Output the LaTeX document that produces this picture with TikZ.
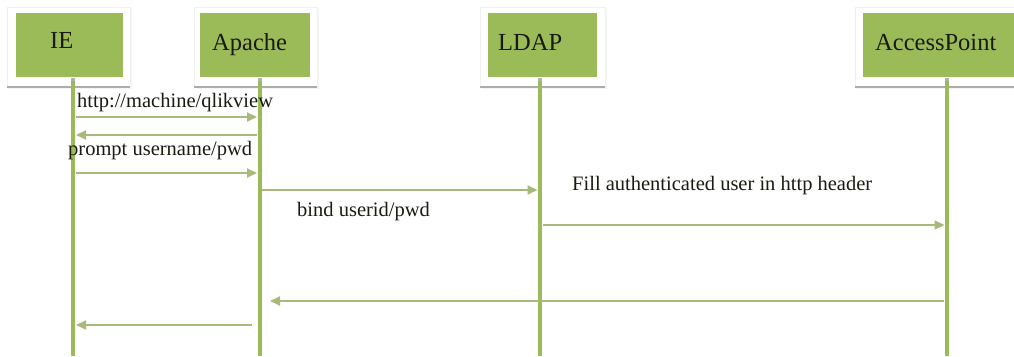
\documentclass[tikz,border=0pt]{standalone}
\usepackage{fontspec}
\setmainfont{Liberation Serif}
\usetikzlibrary{arrows.meta}
\definecolor{olive}{HTML}{9BBB59}
\definecolor{msgc}{HTML}{A7B97B}
\definecolor{txtc}{HTML}{1A1A10}
\tikzset{
  frame/.style={draw=gray!12, fill=white, line width=0.8pt},
  shadowline/.style={draw=gray!65, line width=2.2pt},
  box/.style={fill=olive, draw=none, inner sep=0pt},
  boxlabel/.style={anchor=base west, inner sep=0pt, text=txtc, font=\fontsize{24.5}{28}\selectfont},
  msglabel/.style={anchor=base west, inner sep=0pt, text=txtc, font=\fontsize{20.5}{24}\selectfont},
  lifeline/.style={draw=olive, line width=4pt},
  msg/.style={draw=msgc, line width=2pt, -{Triangle[length=10pt,width=9pt]}},
}
\begin{document}
\begin{tikzpicture}[x=1pt,y=-1pt]
\useasboundingbox (0,0) rectangle (1014,356);
% frames with shadow
\foreach \l/\r in {7/130, 194/317, 480/605, 855/1020}{
  \fill[gray!8] ({\l+2},9) rectangle ({\r+2},89);
  \draw[frame] (\l,7) rectangle (\r,87);
  \draw[shadowline] (\l,87) -- (\r,87);
}
% boxes
\node[box, minimum width=107pt, minimum height=64pt] (ie) at (69.5,45) {};
\node[box, minimum width=110pt, minimum height=64pt] (ap) at (255,45) {};
\node[box, minimum width=109pt, minimum height=64pt] (ld) at (542.5,45) {};
\node[box, minimum width=151pt, minimum height=64pt] (acc) at (938.5,45) {};
% box labels
\node[boxlabel] (ieL) at (50,48) {IE};
\node[boxlabel] (apL) at (212,50) {Apache};
\node[boxlabel] (ldL) at (498,50) {LDAP};
\node[boxlabel] (accL) at (875,50) {AccessPoint};
% lifeline coordinates
\coordinate (ieT) at (73,79);   \coordinate (ieB) at (73,356);
\coordinate (apT) at (259.5,79);\coordinate (apB) at (259.5,356);
\coordinate (ldT) at (540,79);  \coordinate (ldB) at (540,356);
\coordinate (acT) at (947,79);  \coordinate (acB) at (947,356);
\draw[lifeline] (ieT) -- (ieB);
\draw[lifeline] (apT) -- (apB);
\draw[lifeline] (ldT) -- (ldB);
\draw[lifeline] (acT) -- (acB);
\fill[gray!60] (71,78) rectangle (75,81);
\fill[gray!60] (257.5,78) rectangle (261.5,81);
\fill[gray!60] (538,78) rectangle (542,81);
\fill[gray!60] (945,78) rectangle (949,81);
% message end points
\coordinate (m1a) at (76,117);  \coordinate (m1b) at (257,117);
\coordinate (m2a) at (257,135); \coordinate (m2b) at (76,135);
\coordinate (m3a) at (76,173);  \coordinate (m3b) at (257,173);
\coordinate (m4a) at (262,190); \coordinate (m4b) at (537.5,190);
\coordinate (m5a) at (543,225); \coordinate (m5b) at (944.5,225);
\coordinate (m6a) at (944,301); \coordinate (m6b) at (270,301);
\coordinate (m7a) at (252,325); \coordinate (m7b) at (76,325);
\draw[msg] (m1a) -- (m1b);
\draw[msg] (m2a) -- (m2b);
\draw[msg] (m3a) -- (m3b);
\draw[msg] (m4a) -- (m4b);
\draw[msg] (m5a) -- (m5b);
\draw[msg] (m6a) -- (m6b);
\draw[msg] (m7a) -- (m7b);
% message labels
\node[msglabel] (l1) at (77,107) {http://machine/qlikview};
\node[msglabel] (l2) at (68,155) {prompt username/pwd};
\node[msglabel] (l3) at (297,216) {bind userid/pwd};
\node[msglabel] (l4) at (572,190) {Fill authenticated user in http header};
\end{tikzpicture}
\end{document}
